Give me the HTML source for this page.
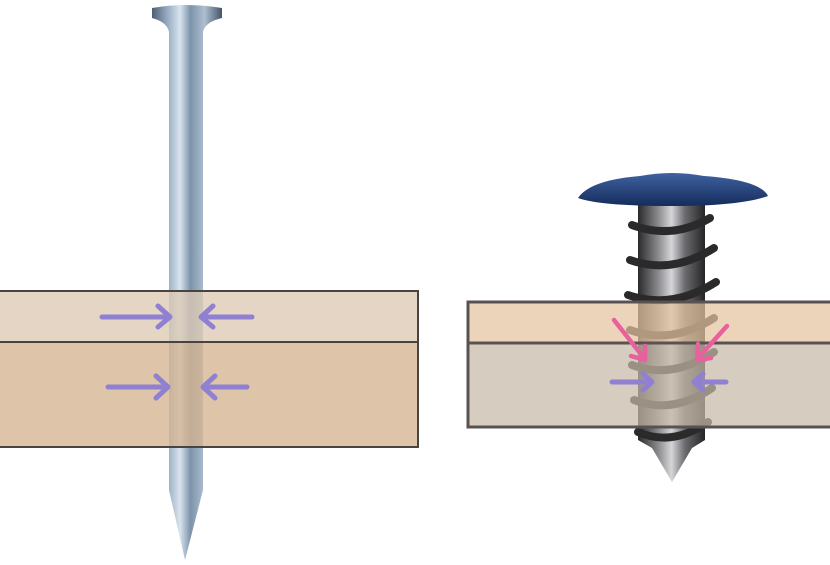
<!DOCTYPE html>
<html><head><meta charset="utf-8"><style>html,body{margin:0;padding:0;background:#fff}svg{display:block}</style></head>
<body>
<svg width="830" height="565" viewBox="0 0 830 565" xmlns="http://www.w3.org/2000/svg">
<defs>
<linearGradient id="nail" x1="0" x2="1" y1="0" y2="0">
<stop offset="0" stop-color="#4d5e72"/><stop offset="0.2" stop-color="#8fa6bc"/><stop offset="0.4" stop-color="#d8e4ee"/><stop offset="0.55" stop-color="#7d93aa"/><stop offset="0.75" stop-color="#aebfd0"/><stop offset="1" stop-color="#44546a"/>
</linearGradient>
<linearGradient id="screw" x1="0" x2="1" y1="0" y2="0">
<stop offset="0" stop-color="#2a2a2c"/><stop offset="0.3" stop-color="#8a8a8e"/><stop offset="0.5" stop-color="#d6d6d8"/><stop offset="0.7" stop-color="#6b6b70"/><stop offset="1" stop-color="#252527"/>
</linearGradient>
<linearGradient id="head" x1="0" x2="0" y1="0" y2="1">
<stop offset="0" stop-color="#3f62a0"/><stop offset="1" stop-color="#152c5c"/>
</linearGradient>
</defs>
<path d="M152,8 Q186,2 222,8 L222,18 Q205,22 203,32 L203,490 L185,560 L169,490 L169,32 Q167,22 152,18 Z" fill="url(#nail)"/>
<path d="M638,205 L705,205 L705,440 L692,448 L672,482 L652,448 L638,440 Z" fill="url(#screw)"/>
<g stroke="#2a2a2a" stroke-width="8" fill="none" stroke-linecap="round">
<path d="M632,225 Q672,240 710,218"/><path d="M630,260 Q672,275 714,248"/><path d="M628,295 Q672,310 716,282"/>
<path d="M630,330 Q672,345 714,318"/><path d="M632,365 Q672,380 714,352"/><path d="M634,400 Q672,415 712,388"/><path d="M638,432 Q672,447 708,422"/>
</g>
<path d="M578,198 Q590,180 640,176 Q672,170 704,176 Q760,180 768,196 Q740,206 672,206 Q600,206 578,198 Z" fill="url(#head)"/>
<rect x="-2" y="291" width="420" height="51" fill="#dcc9b5" fill-opacity="0.78" stroke="#4a4440" stroke-width="2"/>
<rect x="-2" y="342" width="420" height="105" fill="#d5b48f" fill-opacity="0.78" stroke="#4a4440" stroke-width="2"/>
<rect x="468" y="302" width="370" height="41" fill="#e4c39f" fill-opacity="0.72" stroke="#585250" stroke-width="3"/>
<rect x="468" y="343" width="370" height="84" fill="#c6b8a6" fill-opacity="0.72" stroke="#585250" stroke-width="3"/>
<g stroke="#8f80d2" stroke-width="5" fill="none" stroke-linecap="round" stroke-linejoin="round">
<path d="M102,317 L168,317 M158,306 L170,317 L158,327"/>
<path d="M252,317 L203,317 M213,306 L201,317 L213,327"/>
<path d="M108,387 L168,387 M156,376 L168,387 L156,398"/>
<path d="M247,387 L204,387 M215,376 L203,387 L215,398"/>
<path d="M612,382 L650,382 M643,374 L652,382 L643,390"/>
<path d="M726,382 L696,382 M703,374 L694,382 L703,390"/>
</g>
<g stroke="#e9619c" stroke-width="4.5" fill="none" stroke-linecap="round" stroke-linejoin="round">
<path d="M614,320 L644,358 M631,356 L645,360 L645,346"/>
<path d="M727,326 L698,358 M698,344 L697,360 L711,358"/>
</g>
</svg>
</body></html>
